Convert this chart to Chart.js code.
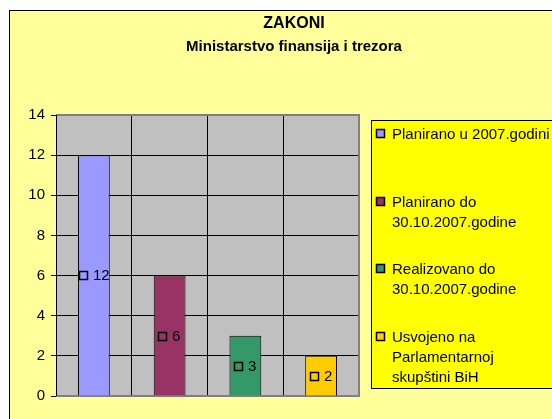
<!DOCTYPE html>
<html>
<head>
<meta charset="utf-8">
<script src="https://cdn.jsdelivr.net/npm/chart.js@4.4.1/dist/chart.umd.min.js"></script>
<style>
html, body { margin: 0; padding: 0; background: #fff; overflow: hidden; }
#wrap { width: 588px; height: 419px; }
</style>
</head>
<body>
<div id="wrap"><canvas id="zakoni" width="588" height="419"></canvas></div>
<script>
// podaci
const kategorije = [
  ['Planirano u 2007.godini'],
  ['Planirano do', '30.10.2007.godine'],
  ['Realizovano do', '30.10.2007.godine'],
  ['Usvojeno na', 'Parlamentarnoj', 'skupštini BiH']
];
const vrijednosti = [12, 6, 3, 2];
const boje = ['#9999FF', '#993366', '#339966', '#FFCC00'];
const yMin = 0, yMax = 14, yKorak = 2;

const FONT = "'Liberation Sans', Arial, sans-serif";

// pozadina: bijeli rub, zuta povrsina grafikona, siva povrsina crteza
const pozadina = {
  id: 'pozadina',
  beforeDraw(chart) {
    const { ctx, chartArea: a } = chart;
    ctx.save();
    ctx.fillStyle = '#fff';
    ctx.fillRect(0, 0, chart.width, chart.height);
    ctx.fillStyle = '#FFFF99';
    ctx.fillRect(9.5, 10.5, chart.width, chart.height);
    ctx.strokeStyle = '#000';
    ctx.lineWidth = 1;
    ctx.strokeRect(9.5, 10.5, chart.width + 10, chart.height + 10);
    ctx.fillStyle = '#C0C0C0';
    ctx.fillRect(a.left, a.top, a.right - a.left, a.bottom - a.top);
    ctx.restore();
  },
  beforeDatasetsDraw(chart) {
    const { ctx, chartArea: a } = chart;
    ctx.save();
    ctx.strokeStyle = '#808080';
    ctx.lineWidth = 2;
    ctx.beginPath();
    ctx.moveTo(a.left, a.top);
    ctx.lineTo(a.right, a.top);
    ctx.lineTo(a.right, a.bottom);
    ctx.lineTo(a.left, a.bottom);
    ctx.stroke();
    ctx.strokeStyle = '#000';
    ctx.lineWidth = 1;
    ctx.beginPath();
    ctx.moveTo(a.left + 0.5, a.top);
    ctx.lineTo(a.left + 0.5, a.bottom);
    ctx.stroke();
    ctx.restore();
  }
};

// oznake podataka: kvadratic u boji + vrijednost, na pola visine stupca
const oznake = {
  id: 'oznake',
  afterDatasetsDraw(chart) {
    const { ctx } = chart;
    const meta = chart.getDatasetMeta(0);
    ctx.save();
    ctx.font = '15px ' + FONT;
    ctx.textBaseline = 'middle';
    ctx.textAlign = 'left';
    meta.data.forEach((bar, i) => {
      const txt = String(vrijednosti[i]);
      const w = ctx.measureText(txt).width;
      const total = 8 + 6 + w;
      const x0 = Math.round(bar.x - total / 2);
      const cy = Math.round((bar.y + bar.base) / 2);
      ctx.fillStyle = boje[i];
      ctx.fillRect(x0 + 0.5, cy - 4 + 0.5, 8, 8);
      ctx.strokeStyle = '#000';
      ctx.lineWidth = 1.5;
      ctx.strokeRect(x0 + 0.5, cy - 4 + 0.5, 8, 8);
      ctx.fillStyle = '#000';
      ctx.fillText(txt, x0 + 14, cy + 1);
    });
    ctx.restore();
  }
};

// legenda desno, u zutom okviru
const legenda = {
  id: 'legenda',
  afterDraw(chart) {
    const { ctx } = chart;
    const x = 371.5, y = 120.5, w = 205, h = 268;
    const pocetci = [134, 202, 269, 337];
    ctx.save();
    ctx.fillStyle = '#FFFF00';
    ctx.fillRect(x, y, w, h);
    ctx.strokeStyle = '#000';
    ctx.lineWidth = 1;
    ctx.strokeRect(x, y, w, h);
    ctx.font = '15px ' + FONT;
    ctx.textBaseline = 'middle';
    ctx.textAlign = 'left';
    kategorije.forEach((linije, i) => {
      const cy = pocetci[i];
      ctx.fillStyle = boje[i];
      ctx.fillRect(376.5, cy - 4.5, 8, 8);
      ctx.strokeStyle = '#000';
      ctx.lineWidth = 1.5;
      ctx.strokeRect(376.5, cy - 4.5, 8, 8);
      ctx.fillStyle = '#000';
      linije.forEach((l, j) => ctx.fillText(l, 392, cy + j * 20 + 1));
    });
    ctx.restore();
  }
};

new Chart(document.getElementById('zakoni'), {
  type: 'bar',
  data: {
    labels: kategorije.map(k => k.join(' ')),
    datasets: [{
      data: vrijednosti,
      backgroundColor: boje,
      borderColor: '#000',
      borderWidth: 1,
      barPercentage: 0.42,
      categoryPercentage: 1
    }]
  },
  options: {
    responsive: false,
    animation: false,
    devicePixelRatio: 1,
    layout: { padding: 0 },
    plugins: {
      legend: { display: false },
      tooltip: { enabled: false },
      title: {
        display: true,
        text: 'ZAKONI',
        color: '#000',
        font: { family: FONT, size: 16, weight: 'bold', lineHeight: 1 },
        padding: { top: 16, bottom: 0 }
      },
      subtitle: {
        display: true,
        text: 'Ministarstvo finansija i trezora',
        color: '#000',
        font: { family: FONT, size: 15, weight: 'bold', lineHeight: 1 },
        padding: { top: 7.5, bottom: 60.5 }
      }
    },
    scales: {
      x: {
        offset: true,
        ticks: { display: false },
        grid: { display: true, offset: true, color: '#000', lineWidth: 1, drawTicks: false },
        border: { display: false },
        afterFit(s) { s.height = 23; }
      },
      y: {
        min: yMin,
        max: yMax,
        ticks: { stepSize: yKorak, color: '#000', padding: 6, font: { family: FONT, size: 15 } },
        grid: { color: '#000', lineWidth: 1, tickLength: 5, tickColor: '#000' },
        border: { display: true, color: '#000' },
        afterFit(s) { s.width = 56; }
      },
      prostor: {
        type: 'linear',
        position: 'right',
        display: true,
        ticks: { display: false },
        grid: { display: false, drawTicks: false },
        border: { display: false },
        afterFit(s) { s.width = 229; }
      }
    }
  },
  plugins: [pozadina, oznake, legenda]
});
</script>
</body>
</html>
